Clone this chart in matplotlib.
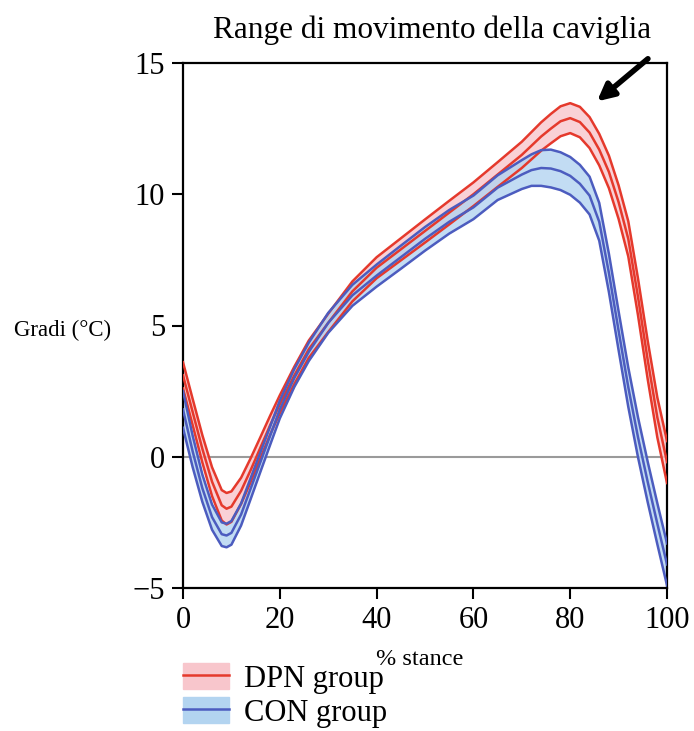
import numpy as np
import matplotlib.pyplot as plt
from matplotlib.patches import Patch
from matplotlib.lines import Line2D

# % stance sample points
stance = [0, 2, 4, 6, 8, 9, 10, 12, 14, 16, 18, 20, 23, 26, 30, 35, 40, 45,
          50, 55, 60, 65, 70, 72, 74, 76, 78, 80, 82, 84, 86, 88, 90, 92, 94,
          96, 98, 100]

# DPN group: mean and half band width
dpn_mean = [3.1, 1.7, 0.3, -0.95, -1.85, -1.98, -1.9, -1.3, -0.5, 0.35, 1.2, 2.0,
            3.1, 4.1, 5.1, 6.3, 7.2, 7.9, 8.6, 9.3, 10.0, 10.75, 11.5, 11.85,
            12.2, 12.5, 12.78, 12.9, 12.75, 12.35, 11.7, 10.85, 9.7, 8.3, 6.1,
            3.7, 1.5, -0.2]
dpn_sd = [0.5, 0.5, 0.52, 0.55, 0.58, 0.6, 0.58, 0.5, 0.45, 0.4, 0.36, 0.34,
          0.33, 0.33, 0.35, 0.38, 0.4, 0.42, 0.44, 0.45, 0.45, 0.47, 0.5, 0.52,
          0.54, 0.56, 0.57, 0.57, 0.58, 0.59, 0.6, 0.62, 0.64, 0.67, 0.7, 0.73,
          0.76, 0.8]

# CON group: mean and half band width
con_mean = [1.8, 0.2, -1.2, -2.3, -2.95, -3.0, -2.9, -2.2, -1.2, -0.2, 0.8, 1.8,
            3.0, 4.0, 5.1, 6.15, 6.9, 7.6, 8.3, 8.95, 9.5, 10.25, 10.75, 10.92,
            11.0, 10.98, 10.88, 10.7, 10.4, 9.95, 8.95, 7.0, 4.8, 2.65, 0.75,
            -0.95, -2.55, -4.1]
con_sd = [0.7, 0.6, 0.52, 0.48, 0.45, 0.45, 0.45, 0.42, 0.4, 0.37, 0.35, 0.34,
          0.34, 0.35, 0.38, 0.4, 0.42, 0.44, 0.45, 0.45, 0.45, 0.47, 0.55, 0.6,
          0.68, 0.72, 0.72, 0.72, 0.72, 0.72, 0.72, 0.73, 0.74, 0.75, 0.76,
          0.77, 0.78, 0.8]

groups = ["DPN group", "CON group"]

plt.rcParams['font.family'] = ['Liberation Serif', 'DejaVu Serif']

x = np.array(stance)
red_line, red_fill = '#e5392c', '#f8c6cc'
blue_line, blue_fill = '#4c5cbf', '#b3d4f0'

fig = plt.figure(figsize=(6.94, 7.31), dpi=100)
ax = fig.add_axes([183/694, 1 - 588/731, 484/694, 525/731])

ax.axhline(0, color='#9a9a9a', lw=1.5, zorder=1)

for m, s, lc, fc in [(dpn_mean, dpn_sd, red_line, red_fill),
                     (con_mean, con_sd, blue_line, blue_fill)]:
    m = np.array(m)
    s = np.array(s)
    ax.fill_between(x, m - s, m + s, color=fc, alpha=0.8, lw=0, zorder=2)
    for y in (m + s, m, m - s):
        ax.plot(x, y, color=lc, lw=1.8, zorder=3, solid_joinstyle='round')

ax.set_xlim(0, 100)
ax.set_ylim(-5, 15)
ax.set_xticks([0, 20, 40, 60, 80, 100])
ax.set_yticks([-5, 0, 5, 10, 15])
ax.set_yticklabels(['\u22125', '0', '5', '10', '15'])
ax.tick_params(direction='out', length=8, width=1.5, labelsize=22, pad=5)
for sp in ax.spines.values():
    sp.set_linewidth(1.6)

ax.set_xlabel('% stance', fontsize=17.5)
ax.xaxis.set_label_coords(0.49, -0.137)
ax.xaxis.label.set_va('center')
ax.set_ylabel('Gradi (°C)', fontsize=16.5, rotation=0)
ax.yaxis.set_label_coords(-0.248, 0.491)
ax.yaxis.label.set_va('center')
ax.yaxis.label.set_ha('center')

ax.text(0.514, 1.063, 'Range di movimento della caviglia', transform=ax.transAxes,
        ha='center', va='center', fontsize=22.5)

ax.annotate('', xy=(85.1, 13.47), xytext=(96.5, 15.23), annotation_clip=False,
            arrowprops=dict(arrowstyle='-|>,head_length=1.0,head_width=0.5',
                            color='black', lw=4))

handles = [(Patch(color=red_fill), Line2D([], [], color=red_line, lw=1.8)),
           (Patch(color=blue_fill), Line2D([], [], color=blue_line, lw=1.8))]
fig.legend(handles, groups, loc='upper left', bbox_to_anchor=(162/694, 1 - 642/731),
           frameon=False, fontsize=22, handlelength=1.5, handleheight=0.9,
           labelspacing=0.12, handletextpad=0.5, borderpad=0.2)

fig.savefig('out.png', dpi=100)
